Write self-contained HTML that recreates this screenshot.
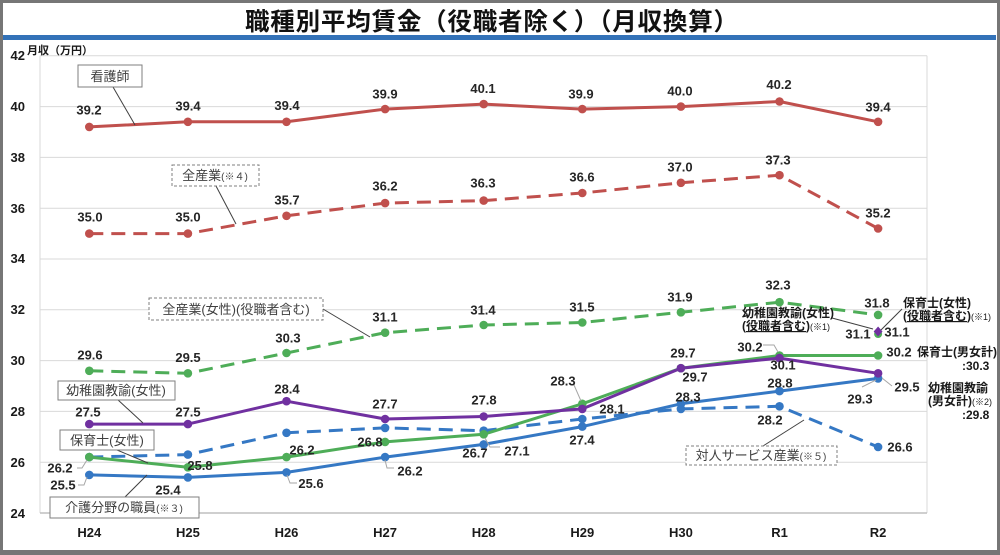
<!DOCTYPE html>
<html><head><meta charset="utf-8">
<style>
html,body{margin:0;padding:0;background:#fff;}
svg{display:block;}
text{font-family:"Liberation Sans","Noto Sans CJK JP",sans-serif;}
.t{font-size:13px;font-weight:bold;fill:#262626;text-anchor:middle;}
.ax{font-size:13px;font-weight:bold;fill:#1a1a1a;}
.bx{font-size:13px;fill:#404040;}
.an{font-size:12px;font-weight:bold;fill:#1a1a1a;}
</style></head>
<body>
<svg width="1000" height="555" viewBox="0 0 1000 555" xmlns="http://www.w3.org/2000/svg">
<rect x="0" y="0" width="1000" height="555" fill="#fff"/>
<!-- frame -->
<rect x="0" y="0" width="1000" height="3" fill="#767676"/>
<rect x="0" y="0" width="3" height="555" fill="#767676"/>
<rect x="997" y="0" width="3" height="555" fill="#767676"/>
<rect x="0" y="550" width="1000" height="5" fill="#767676"/>
<!-- title -->
<text x="245" y="30" textLength="493" lengthAdjust="spacing" style="font-size:24.5px;font-weight:bold;fill:#111;font-family:'Noto Sans CJK JP',sans-serif;">職種別平均賃金（役職者除く）（月収換算）</text>
<rect x="3" y="35" width="993" height="5" fill="#3372b8"/>

<!-- grid -->
<g stroke="#d9d9d9" stroke-width="1">
<line x1="40" y1="55.8" x2="927" y2="55.8"/>
<line x1="40" y1="106.6" x2="927" y2="106.6"/>
<line x1="40" y1="157.4" x2="927" y2="157.4"/>
<line x1="40" y1="208.2" x2="927" y2="208.2"/>
<line x1="40" y1="259" x2="927" y2="259"/>
<line x1="40" y1="309.8" x2="927" y2="309.8"/>
<line x1="40" y1="360.6" x2="927" y2="360.6"/>
<line x1="40" y1="411.4" x2="927" y2="411.4"/>
<line x1="40" y1="462.2" x2="927" y2="462.2"/>
<line x1="40" y1="55.8" x2="40" y2="513"/>
<line x1="927" y1="55.8" x2="927" y2="513"/>
</g>
<line x1="40" y1="513" x2="927" y2="513" stroke="#bfbfbf" stroke-width="1.5"/>

<!-- y ticks -->
<g class="ax" text-anchor="end">
<text x="25" y="60" text-anchor="end">42</text>
<text x="25" y="111" text-anchor="end">40</text>
<text x="25" y="162" text-anchor="end">38</text>
<text x="25" y="213" text-anchor="end">36</text>
<text x="25" y="263" text-anchor="end">34</text>
<text x="25" y="314" text-anchor="end">32</text>
<text x="25" y="365" text-anchor="end">30</text>
<text x="25" y="416" text-anchor="end">28</text>
<text x="25" y="467" text-anchor="end">26</text>
<text x="25" y="518" text-anchor="end">24</text>
</g>
<text x="27" y="54" style="font-size:11px;font-weight:bold;fill:#1a1a1a;">月収（万円）</text>

<!-- x labels -->
<g class="ax" text-anchor="middle">
<text x="89.3" y="537" text-anchor="middle">H24</text>
<text x="187.9" y="537" text-anchor="middle">H25</text>
<text x="286.5" y="537" text-anchor="middle">H26</text>
<text x="385.1" y="537" text-anchor="middle">H27</text>
<text x="483.7" y="537" text-anchor="middle">H28</text>
<text x="582.3" y="537" text-anchor="middle">H29</text>
<text x="680.9" y="537" text-anchor="middle">H30</text>
<text x="779.5" y="537" text-anchor="middle">R1</text>
<text x="878.1" y="537" text-anchor="middle">R2</text>
</g>

<!-- series -->
<g fill="none" stroke-width="3" stroke-linejoin="round">
<polyline stroke="#c0504d" stroke-dasharray="14 8" points="89.3,233.6 187.9,233.6 286.5,215.8 385.1,203.1 483.7,200.6 582.3,193.0 680.9,182.8 779.5,175.2 878.1,228.5"/>
<polyline stroke="#4ead58" stroke-dasharray="14 8" points="89.3,370.8 187.9,373.3 286.5,353.0 385.1,332.7 483.7,325.0 582.3,322.5 680.9,312.3 779.5,302.2 878.1,314.9"/>
<polyline stroke="#3578c4" stroke-dasharray="14 8" points="89.3,457.1 187.9,454.6 286.5,432.8 385.1,427.9 483.7,430.7 582.3,419.0 680.9,408.9 779.5,406.3 878.1,447.0"/>
<polyline stroke="#3578c4" points="89.3,474.9 187.9,477.4 286.5,472.4 385.1,457.1 483.7,444.4 582.3,426.6 680.9,403.8 779.5,391.1 878.1,378.4"/>
<polyline stroke="#4ead58" points="89.3,457.1 187.9,467.3 286.5,457.1 385.1,441.9 483.7,434.3 582.3,403.8 680.9,368.2 779.5,355.5 878.1,355.5"/>
<polyline stroke="#7030a0" points="89.3,424.1 187.9,424.1 286.5,401.2 385.1,419.0 483.7,416.5 582.3,408.9 680.9,368.2 779.5,358.1 878.1,373.3"/>
<polyline stroke="#c0504d" points="89.3,126.9 187.9,121.8 286.5,121.8 385.1,109.1 483.7,104.1 582.3,109.1 680.9,106.6 779.5,101.5 878.1,121.8"/>
</g>

<!-- markers -->
<g fill="#c0504d">
<circle cx="89.3" cy="233.6" r="4.3"/><circle cx="187.9" cy="233.6" r="4.3"/><circle cx="286.5" cy="215.8" r="4.3"/><circle cx="385.1" cy="203.1" r="4.3"/><circle cx="483.7" cy="200.6" r="4.3"/><circle cx="582.3" cy="193.0" r="4.3"/><circle cx="680.9" cy="182.8" r="4.3"/><circle cx="779.5" cy="175.2" r="4.3"/><circle cx="878.1" cy="228.5" r="4.3"/>
</g>
<g fill="#4ead58">
<circle cx="89.3" cy="370.8" r="4.3"/><circle cx="187.9" cy="373.3" r="4.3"/><circle cx="286.5" cy="353.0" r="4.3"/><circle cx="385.1" cy="332.7" r="4.3"/><circle cx="483.7" cy="325.0" r="4.3"/><circle cx="582.3" cy="322.5" r="4.3"/><circle cx="680.9" cy="312.3" r="4.3"/><circle cx="779.5" cy="302.2" r="4.3"/><circle cx="878.1" cy="314.9" r="4.3"/>
</g>
<g fill="#3578c4">
<circle cx="89.3" cy="457.1" r="4.3"/><circle cx="187.9" cy="454.6" r="4.3"/><circle cx="286.5" cy="432.8" r="4.3"/><circle cx="385.1" cy="427.9" r="4.3"/><circle cx="483.7" cy="430.7" r="4.3"/><circle cx="582.3" cy="419.0" r="4.3"/><circle cx="680.9" cy="408.9" r="4.3"/><circle cx="779.5" cy="406.3" r="4.3"/><circle cx="878.1" cy="447.0" r="4.3"/>
<circle cx="89.3" cy="474.9" r="4.3"/><circle cx="187.9" cy="477.4" r="4.3"/><circle cx="286.5" cy="472.4" r="4.3"/><circle cx="385.1" cy="457.1" r="4.3"/><circle cx="483.7" cy="444.4" r="4.3"/><circle cx="582.3" cy="426.6" r="4.3"/><circle cx="680.9" cy="403.8" r="4.3"/><circle cx="779.5" cy="391.1" r="4.3"/><circle cx="878.1" cy="378.4" r="4.3"/>
</g>
<g fill="#4ead58">
<circle cx="89.3" cy="457.1" r="4.3"/><circle cx="187.9" cy="467.3" r="4.3"/><circle cx="286.5" cy="457.1" r="4.3"/><circle cx="385.1" cy="441.9" r="4.3"/><circle cx="483.7" cy="434.3" r="4.3"/><circle cx="582.3" cy="403.8" r="4.3"/><circle cx="680.9" cy="368.2" r="4.3"/><circle cx="779.5" cy="355.5" r="4.3"/><circle cx="878.1" cy="355.5" r="4.3"/>
<circle cx="878.1" cy="334" r="4"/>
</g>
<g fill="#7030a0">
<circle cx="89.3" cy="424.1" r="4.3"/><circle cx="187.9" cy="424.1" r="4.3"/><circle cx="286.5" cy="401.2" r="4.3"/><circle cx="385.1" cy="419.0" r="4.3"/><circle cx="483.7" cy="416.5" r="4.3"/><circle cx="582.3" cy="408.9" r="4.3"/><circle cx="680.9" cy="368.2" r="4.3"/><circle cx="779.5" cy="358.1" r="4.3"/><circle cx="878.1" cy="373.3" r="4.3"/>
<polygon points="878.1,326.5 882.5,331.5 878.1,336.5 873.7,331.5"/>
</g>
<g fill="#c0504d">
<circle cx="89.3" cy="126.9" r="4.3"/><circle cx="187.9" cy="121.8" r="4.3"/><circle cx="286.5" cy="121.8" r="4.3"/><circle cx="385.1" cy="109.1" r="4.3"/><circle cx="483.7" cy="104.1" r="4.3"/><circle cx="582.3" cy="109.1" r="4.3"/><circle cx="680.9" cy="106.6" r="4.3"/><circle cx="779.5" cy="101.5" r="4.3"/><circle cx="878.1" cy="121.8" r="4.3"/>
</g>

<!-- data label leaders (gray) -->
<g fill="none" stroke="#a6a6a6" stroke-width="1">
<polyline points="77,468 82,468 87,460"/>
<polyline points="78,485 84,485 87,477"/>
<polyline points="287,475 290,483 297,483"/>
<polyline points="385,460 387,468 394,468"/>
<polyline points="485,438 490,447 500,447"/>
<polyline points="574,385 581,401"/>
<polyline points="763,345 774,345 778,352"/>
<polyline points="882,378 892,386"/>
<polyline points="862,387 876,380"/>
</g>

<!-- data labels -->
<g class="t">
<text x="89" y="114.5">39.2</text><text x="188" y="110.5">39.4</text><text x="287" y="110">39.4</text><text x="385" y="98.5">39.9</text><text x="483" y="93">40.1</text><text x="581" y="98.5">39.9</text><text x="680" y="95.5">40.0</text><text x="779" y="89">40.2</text><text x="878" y="111.5">39.4</text>

<text x="90" y="221.5">35.0</text><text x="188" y="221.5">35.0</text><text x="287" y="204.5">35.7</text><text x="385" y="190.5">36.2</text><text x="483" y="187.5">36.3</text><text x="582" y="181.5">36.6</text><text x="680" y="171.5">37.0</text><text x="778" y="164.5">37.3</text><text x="878" y="217.5">35.2</text>

<text x="90" y="359.5">29.6</text><text x="188" y="362">29.5</text><text x="288" y="342.5">30.3</text><text x="385" y="321.5">31.1</text><text x="483" y="314.5">31.4</text><text x="582" y="311.5">31.5</text><text x="680" y="301.5">31.9</text><text x="778" y="289.5">32.3</text><text x="877" y="307.5">31.8</text>

<text x="88" y="416.5">27.5</text><text x="188" y="416.5">27.5</text><text x="287" y="393.5">28.4</text><text x="385" y="408.5">27.7</text><text x="484" y="404.5">27.8</text><text x="612" y="413.5">28.1</text><text x="695" y="381.5">29.7</text><text x="783" y="369.5">30.1</text><text x="907" y="391.5">29.5</text>

<text x="60" y="472.5">26.2</text><text x="200" y="470">25.8</text><text x="302" y="454.5">26.2</text><text x="370" y="446.5">26.8</text><text x="517" y="455.5">27.1</text><text x="563" y="385.5">28.3</text><text x="683" y="357.5">29.7</text><text x="750" y="351.5">30.2</text><text x="899" y="356.5">30.2</text>

<text x="63" y="489.5">25.5</text><text x="168" y="494.5">25.4</text><text x="311" y="488">25.6</text><text x="410" y="475.5">26.2</text><text x="475" y="457.5">26.7</text><text x="582" y="444.5">27.4</text><text x="688" y="401.5">28.3</text><text x="780" y="387.5">28.8</text><text x="860" y="403.5">29.3</text>

<text x="770" y="424.5">28.2</text><text x="900" y="451.5">26.6</text>
<text x="858" y="338.5">31.1</text><text x="897" y="336.5">31.1</text>
</g>

<!-- box leaders -->
<g stroke="#404040" stroke-width="1" fill="none">
<line x1="113" y1="87" x2="135" y2="125"/>
<line x1="216" y1="186" x2="236" y2="224"/>
<line x1="323" y1="309" x2="370" y2="337"/>
<line x1="117" y1="399" x2="143" y2="423"/>
<line x1="117" y1="450" x2="148" y2="463"/>
<line x1="125" y1="497" x2="147" y2="475"/>
<line x1="763" y1="446" x2="804" y2="420"/>
<line x1="832" y1="318" x2="873" y2="329"/>
<line x1="902" y1="309" x2="881" y2="330"/>
</g>

<!-- boxes -->
<g fill="#fff" stroke="#7f7f7f" stroke-width="1">
<rect x="78" y="65" width="64" height="22"/>
<rect x="172" y="165" width="87" height="21" stroke-dasharray="3 2"/>
<rect x="149" y="298" width="174" height="22" stroke-dasharray="3 2"/>
<rect x="58" y="381" width="117" height="19"/>
<rect x="60" y="430" width="94" height="20"/>
<rect x="50" y="497" width="149" height="21"/>
<rect x="686" y="446" width="151" height="19" stroke-dasharray="3 2"/>
</g>
<g class="bx">
<text x="110" y="81" text-anchor="middle">看護師</text>
<text x="215" y="180" text-anchor="middle">全産業<tspan style="font-size:10px">(※４)</tspan></text>
<text x="236" y="314" text-anchor="middle">全産業(女性)(役職者含む)</text>
<text x="116" y="395" text-anchor="middle">幼稚園教諭(女性)</text>
<text x="107" y="445" text-anchor="middle">保育士(女性)</text>
<text x="124" y="512" text-anchor="middle">介護分野の職員<tspan style="font-size:10px">(※３)</tspan></text>
<text x="761" y="460" text-anchor="middle">対人サービス産業<tspan style="font-size:10px">(※５)</tspan></text>
</g>

<!-- right annotations -->
<g class="an">
<text x="903" y="307">保育士(女性)</text>
<text x="903" y="320">(<tspan text-decoration="underline">役職者含む</tspan>)<tspan style="font-size:9px;font-weight:normal">(※1)</tspan></text>
<text x="742" y="317">幼稚園教諭(女性)</text>
<text x="742" y="330">(<tspan text-decoration="underline">役職者含む</tspan>)<tspan style="font-size:9px;font-weight:normal">(※1)</tspan></text>
<text x="917" y="356">保育士(男女計)</text>
<text x="962" y="370">:30.3</text>
<text x="928" y="392">幼稚園教諭</text>
<text x="928" y="405">(男女計)<tspan style="font-size:9px;font-weight:normal">(※2)</tspan></text>
<text x="962" y="419">:29.8</text>
</g>
</svg>
</body></html>
